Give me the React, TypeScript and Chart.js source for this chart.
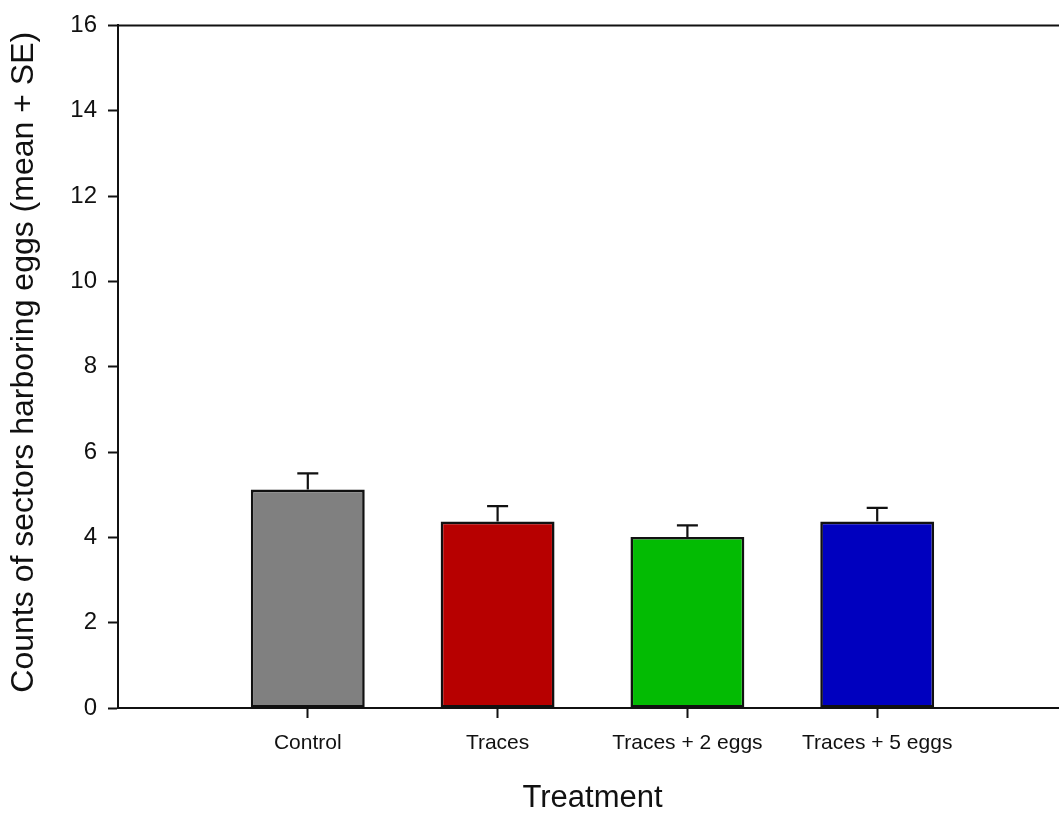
import React, { useEffect, useRef } from "react";
import { Chart, registerables } from "chart.js";

Chart.register(...registerables);

const categories = ["Control", "Traces", "Traces + 2 eggs", "Traces + 5 eggs"];
const means = [5.12, 4.37, 4.01, 4.37];
const se = [0.38, 0.36, 0.27, 0.32];
const barColors = ["#808080", "#b70000", "#03bb03", "#0000bf"];
const yTicks = [0, 2, 4, 6, 8, 10, 12, 14, 16];

const FONT = "'Liberation Sans', Arial, Helvetica, sans-serif";
const INK = "#111111";

const errorBarPlugin = {
  id: "errorBars",
  afterDatasetsDraw(chart: any) {
    const { ctx, scales } = chart;
    const xs = scales.x;
    const ys = scales.y;
    ctx.save();
    ctx.strokeStyle = INK;
    ctx.lineWidth = 2.2;
    means.forEach((m, i) => {
      const x = xs.getPixelForValue(i + 1);
      const yb = ys.getPixelForValue(m);
      const yt = ys.getPixelForValue(m + se[i]);
      ctx.beginPath();
      ctx.moveTo(x, yb);
      ctx.lineTo(x, yt);
      ctx.moveTo(x - 10.5, yt);
      ctx.lineTo(x + 10.5, yt);
      ctx.stroke();
    });
    ctx.restore();
  },
};

const framePlugin = {
  id: "frameTop",
  afterDraw(chart: any) {
    const { ctx, chartArea } = chart;
    ctx.save();
    ctx.strokeStyle = INK;
    ctx.lineWidth = 2;
    ctx.beginPath();
    ctx.moveTo(chartArea.left - 1, chartArea.top);
    ctx.lineTo(chartArea.right, chartArea.top);
    ctx.moveTo(chartArea.right, chartArea.top);
    ctx.lineTo(chartArea.right, chartArea.bottom);
    ctx.stroke();
    ctx.restore();
  },
};

export default function App() {
  const ref = useRef<HTMLCanvasElement | null>(null);
  useEffect(() => {
    if (!ref.current) return;
    const chart = new Chart(ref.current, {
      type: "bar",
      data: {
        datasets: [
          {
            data: means.map((v, i) => ({ x: i + 1, y: v })),
            backgroundColor: barColors,
            borderColor: INK,
            borderWidth: 2.6,
            borderSkipped: false,
            barPercentage: 0.6,
            categoryPercentage: 1,
          },
        ],
      },
      options: {
        animation: false,
        responsive: true,
        maintainAspectRatio: false,
        layout: { padding: { left: 0, top: 23, right: 10, bottom: 0 } },
        plugins: { legend: { display: false }, tooltip: { enabled: false } },
        scales: {
          x: {
            type: "linear",
            min: 0,
            max: 5,
            offset: false,
            afterFit: (s: any) => {
              s.height = 108;
            },
            afterBuildTicks: (s: any) => {
              s.ticks = [0, 1, 2, 3, 4, 5].map((v) => ({ value: v }));
            },
            ticks: {
              autoSkip: false,
              maxRotation: 0,
              padding: 13,
              color: INK,
              font: { family: FONT, size: 21 },
              callback: (v: any) => categories[Number(v) - 1] ?? "",
            },
            grid: {
              offset: false,
              drawOnChartArea: false,
              drawTicks: true,
              tickLength: 10,
              tickWidth: 2,
              tickColor: (c: any) =>
                c.tick && c.tick.value >= 1 && c.tick.value <= 4 ? INK : "rgba(0,0,0,0)",
            },
            border: { display: true, color: INK, width: 2 },
            title: {
              display: true,
              text: "Treatment",
              color: INK,
              font: { family: FONT, size: 31, lineHeight: 1 },
              padding: { top: 0, bottom: 2 },
            },
          },
          y: {
            min: 0,
            max: 16,
            afterFit: (s: any) => {
              s.width = 118;
            },
            afterBuildTicks: (s: any) => {
              s.ticks = yTicks.map((v) => ({ value: v }));
            },
            ticks: {
              padding: 11,
              color: INK,
              font: { family: FONT, size: 24 },
            },
            grid: {
              drawOnChartArea: false,
              drawTicks: true,
              tickLength: 10,
              tickWidth: 2,
              tickColor: INK,
            },
            border: { display: true, color: INK, width: 2 },
            title: {
              display: true,
              text: " Counts of sectors harboring eggs (mean + SE)",
              color: INK,
              font: { family: FONT, size: 32, lineHeight: 1 },
              padding: { top: 8, bottom: 0 },
            },
          },
        },
      },
      plugins: [errorBarPlugin, framePlugin],
    });
    return () => chart.destroy();
  }, []);

  return (
    <div
      style={{
        position: "fixed",
        left: 0,
        top: 0,
        width: 1059,
        height: 816,
        overflow: "hidden",
        background: "#ffffff",
      }}
    >
      <div style={{ position: "relative", width: 1080, height: 816 }}>
        <canvas ref={ref} />
      </div>
    </div>
  );
}
